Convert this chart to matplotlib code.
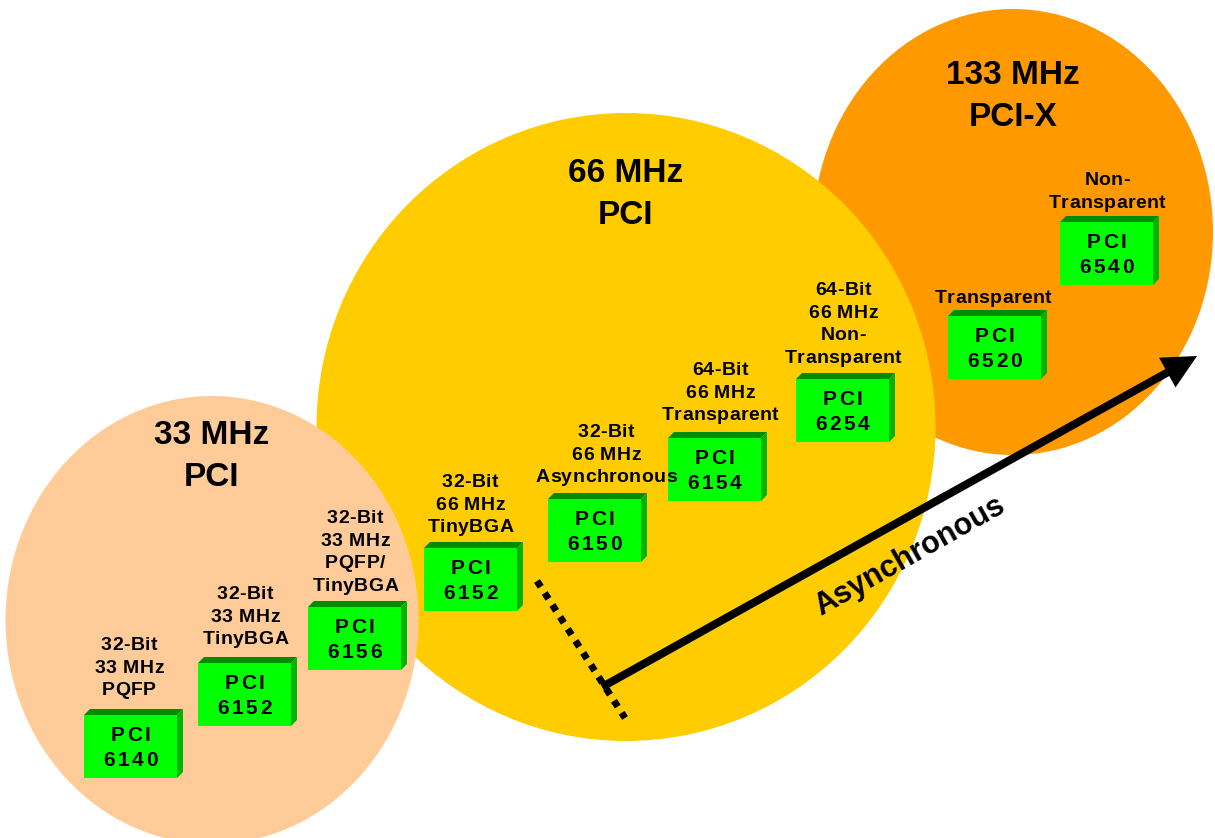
import matplotlib
matplotlib.use("Agg")
import matplotlib.pyplot as plt
from matplotlib.patches import Ellipse, Polygon, FancyArrow
from matplotlib.font_manager import FontProperties, findfont, get_font

DPI = 100
FONT = 'Liberation Sans'

# bus groups
groups = ['33 MHz\nPCI', '66 MHz\nPCI', '133 MHz\nPCI-X']
group_colors = ['#FFCC99', '#FFCC00', '#FF9900']

# bridge parts
parts = ['6140', '6152', '6156', '6152', '6150', '6154', '6254', '6520', '6540']
labels = ['32-Bit\n33 MHz\nPQFP',
          '32-Bit\n33 MHz\nTinyBGA',
          '32-Bit\n33 MHz\nPQFP/\nTinyBGA',
          '32-Bit\n66 MHz\nTinyBGA',
          '32-Bit\n66 MHz\nAsynchronous',
          '64-Bit\n66 MHz\nTransparent',
          '64-Bit\n66 MHz\nNon-\nTransparent',
          'Transparent',
          'Non-\nTransparent']
arrow_label = 'Asynchronous'

# layout (pixel coords, y down)
ell_center = [(212, 620), (626, 427), (1013, 232)]
ell_size = [(413, 448), (619, 628), (400, 446)]
title_y = [432, 170, 72]
box_x = [84, 198, 308, 424, 548, 668, 796, 948, 1060]
box_y = [715, 663, 607, 548, 499, 438, 379, 316, 222]
label_x = [129, 245, 355, 470, 606, 720, 843, 993, 1107]
label_y = [643, 592, 516, 480, 430, 368, 288, 296, 178]
BW, BH, BD = 93, 63, 6


def spaced(ax, x, y, s, size, track):
    # draw bold text centred on x with extra letter spacing (px)
    fp = FontProperties(family=FONT, weight='bold', size=size)
    font = get_font(findfont(fp), hinting_factor=1)
    font.set_size(size, DPI)
    adv = [font.load_char(ord(c)).linearHoriAdvance / 65536 for c in s]
    total = sum(adv) + track * (len(s) - 1)
    cx = x - total / 2
    for c, a in zip(s, adv):
        ax.text(cx, y, c, fontproperties=fp, ha='left', va='baseline',
                color='black', zorder=6)
        cx += a + track


def box(ax, x0, y0, num):
    x1, y1 = x0 + BW, y0 + BH
    top = [(x0, y0), (x1, y0), (x1 + BD, y0 - BD), (x0 + BD, y0 - BD)]
    side = [(x1, y0), (x1 + BD, y0 - BD), (x1 + BD, y1 - BD), (x1, y1)]
    ax.add_patch(Polygon(top, closed=True, fc='#008C00', ec='none', zorder=4))
    ax.add_patch(Polygon(side, closed=True, fc='#00B400', ec='none', zorder=4))
    ax.add_patch(Polygon([(x0, y0), (x1, y0), (x1, y1), (x0, y1)], closed=True,
                         fc='#00FF00', ec='none', zorder=4))
    cx = x0 + BW / 2
    spaced(ax, cx, y0 + 18.5 + 7.5, 'PCI', 15, 2.6)
    spaced(ax, cx, y0 + 43.5 + 7.5, num, 15, 2.6)


fig = plt.figure(figsize=(12.15, 8.38), dpi=DPI)
ax = fig.add_axes([0, 0, 1, 1])
ax.set_xlim(0, 1215)
ax.set_ylim(838, 0)
ax.axis('off')

# orange at back, peach in front
for i in [2, 1, 0]:
    (cx, cy), (w, h) = ell_center[i], ell_size[i]
    ax.add_patch(Ellipse((cx, cy), w, h, fc=group_colors[i], ec='none', zorder=1 + (2 - i) * 0.1))
    for k, line in enumerate(groups[i].split('\n')):
        ax.text(cx, title_y[i] + 12 + k * 42, line, family=FONT, weight='bold',
                fontsize=24, ha='center', va='baseline', zorder=6)

for i in range(len(parts)):
    box(ax, box_x[i], box_y[i], parts[i])
    for k, line in enumerate(labels[i].split('\n')):
        spaced(ax, label_x[i], label_y[i] + 7 + k * 22.7, line, 14, 0.7)

# dotted divider and async arrow
ax.plot([537, 625], [581, 718], color='black', lw=5, linestyle=(0, (1, 1.05)),
        dash_capstyle='butt', zorder=7)
ax.add_patch(FancyArrow(602, 687, 1197 - 602, 356 - 687, width=8, head_width=34,
                        head_length=34, length_includes_head=True,
                        fc='black', ec='none', zorder=8))
ax.text(910, 556, arrow_label, family=FONT, weight='bold', fontsize=22,
        rotation=29.5, rotation_mode='anchor', ha='center', va='center', zorder=8)

fig.savefig('out.png', dpi=DPI)
